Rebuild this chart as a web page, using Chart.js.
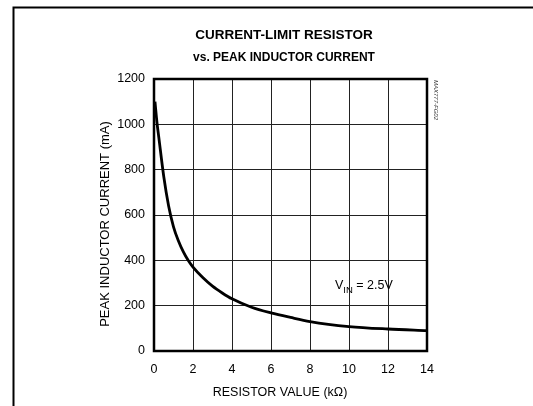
<!DOCTYPE html>
<html>
<head>
<meta charset="utf-8">
<script src="https://cdn.jsdelivr.net/npm/chart.js@4.4.1/dist/chart.umd.min.js"></script>
<style>
  html, body { margin: 0; padding: 0; background: #fff; }
  #wrap { width: 533px; height: 406px; }
</style>
</head>
<body>
<div id="wrap"><canvas id="chart"></canvas></div>
<script>
// values
const resistance = [0.05, 0.15, 0.25, 0.5, 0.75, 1, 1.25, 1.5, 1.75, 2, 2.5, 3, 3.5, 4, 5, 6, 7, 8, 10, 12, 14];
const peakCurrent = [1100, 1010, 940, 770, 640, 548, 486, 438, 400, 370, 324, 286, 256, 230, 193, 168, 148, 130, 108, 97, 90];

const titleLines = ["CURRENT-LIMIT RESISTOR", "vs. PEAK INDUCTOR CURRENT"];
const xTitle = "RESISTOR VALUE (kΩ)";
const yTitle = "PEAK INDUCTOR CURRENT (mA)";
const figCode = "MAX777-FG02";

const FONT = "'Liberation Sans', Arial, Helvetica, sans-serif";

// frame, titles and annotations drawn on top of the chart
const decorations = {
  id: 'decorations',
  afterDraw(chart) {
    const ctx = chart.ctx;
    const area = chart.chartArea;
    ctx.save();

    // outer figure frame (left + top)
    ctx.strokeStyle = '#000';
    ctx.lineWidth = 2;
    ctx.beginPath();
    ctx.moveTo(13.5, 406);
    ctx.lineTo(13.5, 7.5);
    ctx.lineTo(533, 7.5);
    ctx.stroke();

    // plot border
    ctx.lineWidth = 2.5;
    ctx.strokeRect(area.left, area.top, area.right - area.left, area.bottom - area.top);

    ctx.fillStyle = '#000';
    ctx.textAlign = 'center';
    ctx.textBaseline = 'alphabetic';
    ctx.font = "bold 13.5px " + FONT;
    ctx.fillText(titleLines[0], 284, 38.5);
    ctx.font = "bold 12px " + FONT;
    ctx.fillText(titleLines[1], 284, 61);

    ctx.font = "12.5px " + FONT;
    ctx.fillText(xTitle, 280, 396);

    ctx.save();
    ctx.translate(109, 224);
    ctx.rotate(-Math.PI / 2);
    ctx.font = "13px " + FONT;
    ctx.fillText(yTitle, 0, 0);
    ctx.restore();

    // V_IN = 2.5V label
    let x = 335;
    const base = 288.5;
    ctx.textAlign = 'left';
    ctx.font = "12.5px " + FONT;
    ctx.fillText("V", x, base);
    x += ctx.measureText("V").width;
    ctx.font = "9.5px " + FONT;
    ctx.fillText("IN", x, base + 4);
    x += ctx.measureText("IN").width;
    ctx.font = "12.5px " + FONT;
    ctx.fillText(" = 2.5V", x, base);

    // figure code, rotated
    ctx.save();
    ctx.translate(434, 100);
    ctx.rotate(Math.PI / 2);
    ctx.textAlign = 'center';
    ctx.fillStyle = '#333';
    ctx.font = "italic 6px " + FONT;
    ctx.fillText(figCode, 0, 0);
    ctx.restore();

    ctx.restore();
  }
};

const points = resistance.map((r, i) => ({ x: r, y: peakCurrent[i] }));

new Chart(document.getElementById('chart'), {
  type: 'line',
  data: {
    datasets: [{
      data: points,
      borderColor: '#000',
      borderWidth: 2.8,
      pointRadius: 0,
      fill: false,
      cubicInterpolationMode: 'monotone'
    }]
  },
  options: {
    responsive: true,
    maintainAspectRatio: false,
    animation: false,
    devicePixelRatio: 1,
    layout: { padding: { left: 0, right: 106, top: 79, bottom: 0 } },
    plugins: {
      legend: { display: false },
      tooltip: { enabled: false },
      title: { display: false }
    },
    scales: {
      x: {
        type: 'linear',
        min: 0,
        max: 14,
        ticks: { stepSize: 2, padding: 11, color: '#000', font: { family: FONT, size: 12.5 } },
        grid: { color: '#222', lineWidth: 1, drawTicks: false },
        border: { display: false },
        afterFit: s => { s.height = 55; }
      },
      y: {
        min: 0,
        max: 1200,
        ticks: {
          stepSize: 200, padding: 9, color: '#000', font: { family: FONT, size: 12.5 },
          callback: v => String(v)
        },
        grid: { color: '#222', lineWidth: 1, drawTicks: false },
        border: { display: false },
        afterFit: s => { s.width = 154; }
      }
    }
  },
  plugins: [decorations]
});
</script>
</body>
</html>
